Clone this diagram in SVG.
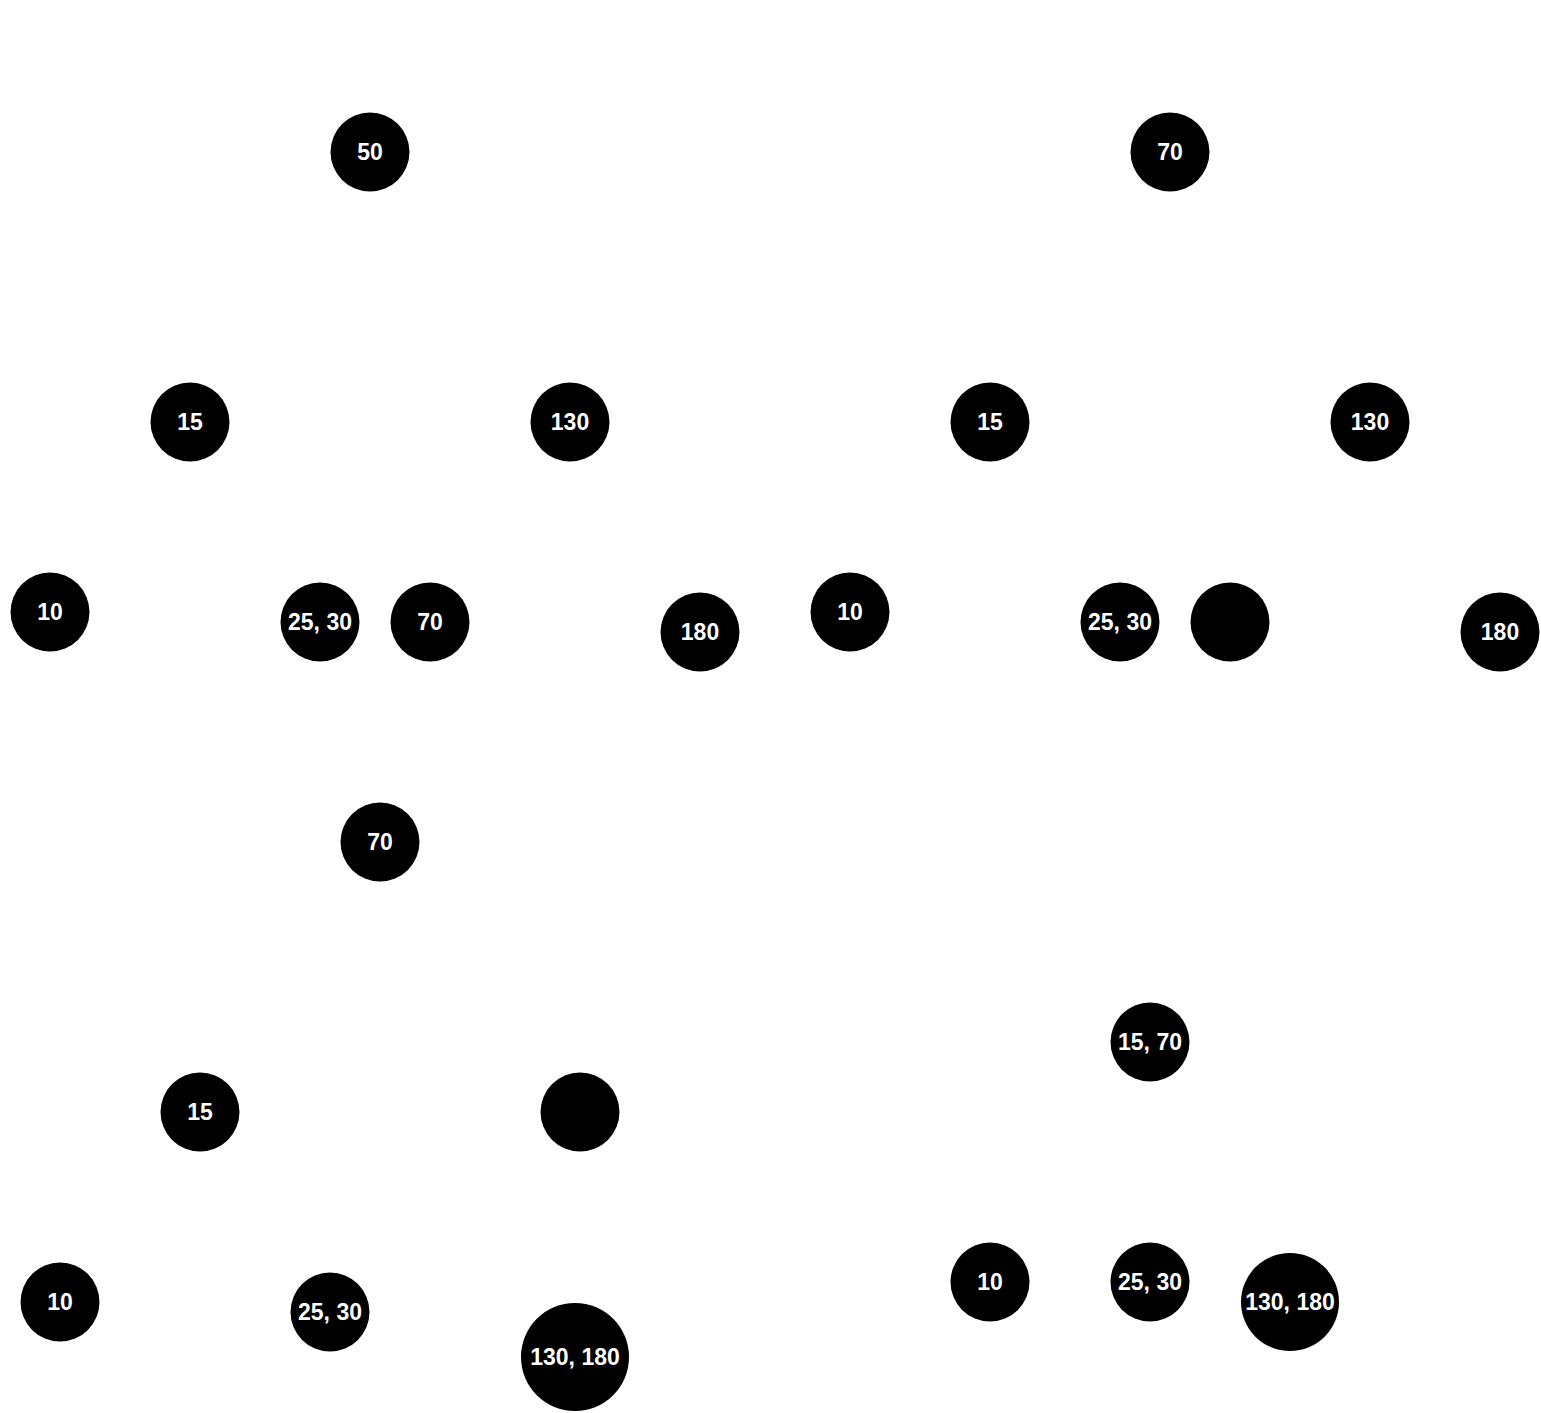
<svg xmlns="http://www.w3.org/2000/svg" width="1541" height="1413" viewBox="0 0 1541 1413">
<style>
.n{fill:#000}
.t{fill:#fff;font-family:"Liberation Sans",Arial,sans-serif;font-weight:bold;font-size:23px;text-anchor:middle}
</style>
<rect width="1541" height="1413" fill="#fff"/>
<g id="connectors"></g>
<g id="t1-50"><circle class="n" cx="370" cy="152" r="39.5"/><text class="t" x="370" y="160">50</text></g>
<g id="t1-15"><circle class="n" cx="190" cy="422" r="39.5"/><text class="t" x="190" y="430">15</text></g>
<g id="t1-130"><circle class="n" cx="570" cy="422" r="39.5"/><text class="t" x="570" y="430">130</text></g>
<g id="t1-10"><circle class="n" cx="50" cy="612" r="39.5"/><text class="t" x="50" y="620">10</text></g>
<g id="t1-2530"><circle class="n" cx="320" cy="622" r="39.5"/><text class="t" x="320" y="630">25, 30</text></g>
<g id="t1-70"><circle class="n" cx="430" cy="622" r="39.5"/><text class="t" x="430" y="630">70</text></g>
<g id="t1-180"><circle class="n" cx="700" cy="632" r="39.5"/><text class="t" x="700" y="640">180</text></g>

<g id="t2-70"><circle class="n" cx="1170" cy="152" r="39.5"/><text class="t" x="1170" y="160">70</text></g>
<g id="t2-15"><circle class="n" cx="990" cy="422" r="39.5"/><text class="t" x="990" y="430">15</text></g>
<g id="t2-130"><circle class="n" cx="1370" cy="422" r="39.5"/><text class="t" x="1370" y="430">130</text></g>
<g id="t2-10"><circle class="n" cx="850" cy="612" r="39.5"/><text class="t" x="850" y="620">10</text></g>
<g id="t2-2530"><circle class="n" cx="1120" cy="622" r="39.5"/><text class="t" x="1120" y="630">25, 30</text></g>
<g id="t2-empty"><circle class="n" cx="1230" cy="622" r="39.5"/></g>
<g id="t2-180"><circle class="n" cx="1500" cy="632" r="39.5"/><text class="t" x="1500" y="640">180</text></g>

<g id="t3-70"><circle class="n" cx="380" cy="842" r="39.5"/><text class="t" x="380" y="850">70</text></g>
<g id="t3-15"><circle class="n" cx="200" cy="1112" r="39.5"/><text class="t" x="200" y="1120">15</text></g>
<g id="t3-empty"><circle class="n" cx="580" cy="1112" r="39.5"/></g>
<g id="t3-10"><circle class="n" cx="60" cy="1302" r="39.5"/><text class="t" x="60" y="1310">10</text></g>
<g id="t3-2530"><circle class="n" cx="330" cy="1312" r="39.5"/><text class="t" x="330" y="1320">25, 30</text></g>
<g id="t3-130180"><circle class="n" cx="575" cy="1357" r="54"/><text class="t" x="575" y="1365">130, 180</text></g>

<g id="t4-1570"><circle class="n" cx="1150" cy="1042" r="39.5"/><text class="t" x="1150" y="1050">15, 70</text></g>
<g id="t4-10"><circle class="n" cx="990" cy="1282" r="39.5"/><text class="t" x="990" y="1290">10</text></g>
<g id="t4-2530"><circle class="n" cx="1150" cy="1282" r="39.5"/><text class="t" x="1150" y="1290">25, 30</text></g>
<g id="t4-130180"><circle class="n" cx="1290" cy="1302" r="49"/><text class="t" x="1290" y="1310">130, 180</text></g>
</svg>
